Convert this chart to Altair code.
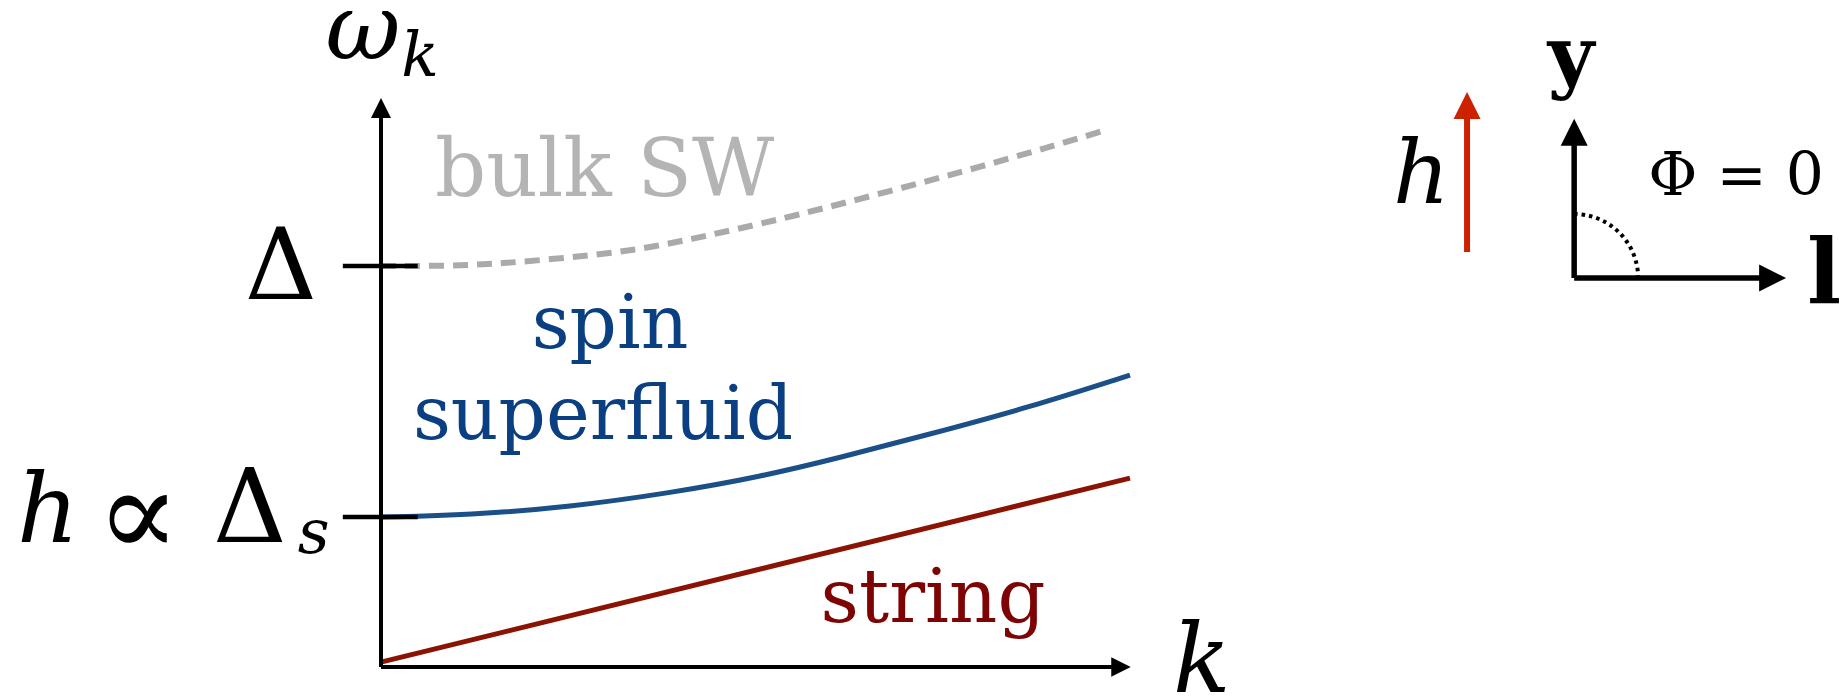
import altair as alt
import pandas as pd

# ---------------------------------------------------------------
# Dispersion branches: k in units of the plotted k range,
# omega in units of the bulk spin-wave gap Δ.
# ---------------------------------------------------------------
bulk_k = [0.0, 0.088, 0.150, 0.216, 0.283, 0.346, 0.409, 0.470, 0.546, 0.676, 0.800, 0.924, 0.964]
bulk_w = [1.000, 1.000, 1.005, 1.015, 1.027, 1.042, 1.065, 1.090, 1.122, 1.185, 1.247, 1.314, 1.337]

spin_k = [0.0, 0.119, 0.252, 0.386, 0.506, 0.617, 0.729, 0.863, 1.0]
spin_w = [0.374, 0.379, 0.399, 0.434, 0.474, 0.524, 0.579, 0.646, 0.728]

string_k = [0.0, 1.0]
string_w = [0.012, 0.471]

# gap levels marked on the ω axis: Δ and Δ_s
gap_w = [1.0, 0.374]
tick_k = [-0.051, 0.049]

# main axes (line end, arrow tip)
w_axis_end, w_axis_tip = 1.389, 1.419
k_axis_end, k_axis_tip = 0.987, 1.001

# inset: field h and the (l, y) frame with Φ = 0
h_k, h_w = [1.450], [1.035, 1.389, 1.434]          # x, (base, line end, tip)
frame_k, frame_w = 1.593, 0.970                   # origin of the frame
frame_y_end, frame_y_tip = 1.327, 1.367
frame_l_end, frame_l_tip = 1.854, 1.876

SERIF = "'DejaVu Serif'"
BLUE_LINE, BLUE_TEXT = "#1b4f88", "#0a3f82"
RED_LINE, RED_TEXT = "#8a1303", "#7e0303"
GREY_LINE, GREY_TEXT = "#a9abab", "#b4b4b4"
FIELD_RED = "#cc2200"

xs = alt.Scale(domain=[-0.50868, 1.94793], nice=False, zero=False)
ys = alt.Scale(domain=[-0.0798, 1.66334], nice=False, zero=False)
X = alt.X("k:Q", scale=xs, axis=None)
Y = alt.Y("w:Q", scale=ys, axis=None)

ARROW_UP = "M0,0L1,2L-1,2Z"
ARROW_RIGHT = "M0,0L-2,-1L-2,1Z"


def curve(ks, ws, **style):
    df = pd.DataFrame({"k": ks, "w": ws})
    return alt.Chart(df).mark_line(interpolate="basis", **style).encode(x=X, y=Y)


def segment(k1, w1, k2, w2, **style):
    df = pd.DataFrame({"k": [k1], "w": [w1], "k2": [k2], "w2": [w2]})
    return alt.Chart(df).mark_rule(**style).encode(x=X, y=Y, x2="k2:Q", y2="w2:Q")


def head(k, w, shape, size, color):
    df = pd.DataFrame({"k": [k], "w": [w]})
    return alt.Chart(df).mark_point(
        shape=shape, size=size, filled=True, color=color, opacity=1, strokeWidth=0
    ).encode(x=X, y=Y)


def label(txt, k, w, **style):
    df = pd.DataFrame({"k": [k], "w": [w], "t": [txt]})
    base = dict(font=SERIF, baseline="alphabetic")
    base.update(style)
    return alt.Chart(df).mark_text(**base).encode(x=X, y=Y, text="t:N")


layers = [
    # dispersion curves
    curve(bulk_k, bulk_w, color=GREY_LINE, strokeWidth=6, strokeDash=[15, 9]),
    curve(spin_k, spin_w, color=BLUE_LINE, strokeWidth=5),
    curve(string_k, string_w, color=RED_LINE, strokeWidth=5),
    # gap ticks
    segment(tick_k[0], gap_w[0], tick_k[1], gap_w[0], color="black", strokeWidth=4.5),
    segment(tick_k[0], gap_w[1], tick_k[1], gap_w[1], color="black", strokeWidth=4.5),
    # main axes
    segment(0, 0, 0, w_axis_end, color="black", strokeWidth=4),
    segment(0, 0, k_axis_end, 0, color="black", strokeWidth=4),
    head(0, w_axis_tip, ARROW_UP, 400, "black"),
    head(k_axis_tip, 0, ARROW_RIGHT, 380, "black"),
    # axis / level labels
    label("ω", -0.024, 1.517, fontSize=92, fontStyle="italic", align="center", color="black"),
    label("k", 0.027, 1.474, fontSize=62, fontStyle="italic", align="left", color="black"),
    label("Δ", -0.0854, 0.918, fontSize=100, align="right", color="black"),
    label("h", -0.486, 0.312, fontSize=96, fontStyle="italic", align="left", color="black"),
    label("∝", -0.324, 0.277, fontSize=124, align="center", color="black"),
    label("Δ", -0.175, 0.312, fontSize=102, align="center", color="black"),
    label("s", -0.111, 0.284, fontSize=62, fontStyle="italic", align="left", color="black"),
    label("k", 1.0574, -0.062, fontSize=95, fontStyle="italic", align="left", color="black"),
    # branch names
    label("bulk SW", 0.0721, 1.1746, fontSize=80, align="left", color=GREY_TEXT),
    label("spin", 0.3057, 0.7955, fontSize=74, align="center", color=BLUE_TEXT),
    label("superfluid", 0.2964, 0.5686, fontSize=74, align="center", color=BLUE_TEXT),
    label("string", 0.737, 0.1122, fontSize=75, align="center", color=RED_TEXT),
    # inset: field direction
    segment(h_k[0], h_w[0], h_k[0], h_w[1], color=FIELD_RED, strokeWidth=6),
    head(h_k[0], h_w[2], ARROW_UP, 729, FIELD_RED),
    label("h", 1.3511, 1.1571, fontSize=88, fontStyle="italic", align="left", color="black"),
    # inset: angle arc between l and y
    alt.Chart(pd.DataFrame({"k": [frame_k], "w": [frame_w]})).mark_arc(
        radius=64, radius2=0, theta=0, theta2=1.5708, fillOpacity=0,
        stroke="black", strokeWidth=4, strokeDash=[3.5, 4]
    ).encode(x=X, y=Y),
    segment(frame_k, frame_w, frame_k, frame_y_end, color="black", strokeWidth=5.5),
    segment(frame_k, frame_w, frame_l_end, frame_w, color="black", strokeWidth=5.5),
    head(frame_k, frame_y_tip, ARROW_UP, 729, "black"),
    head(frame_l_tip, frame_w, ARROW_RIGHT, 729, "black"),
    label("y", 1.5888, 1.4564, fontSize=80, fontWeight="bold", align="center", color="black"),
    label("l", 1.9266, 0.9077, fontSize=90, fontWeight="bold", align="center", color="black"),
    label("Φ = 0", 1.9266, 1.1771, fontSize=60, align="right", color="black"),
]

chart = (
    alt.layer(*layers)
    .properties(
        width=1840,
        height=699,
        padding=0,
        autosize=alt.AutoSizeParams(type="none"),
        background="white",
    )
    .configure_view(stroke=None)
)

chart.save("out.html", embed_options={"renderer": "svg", "actions": False})
